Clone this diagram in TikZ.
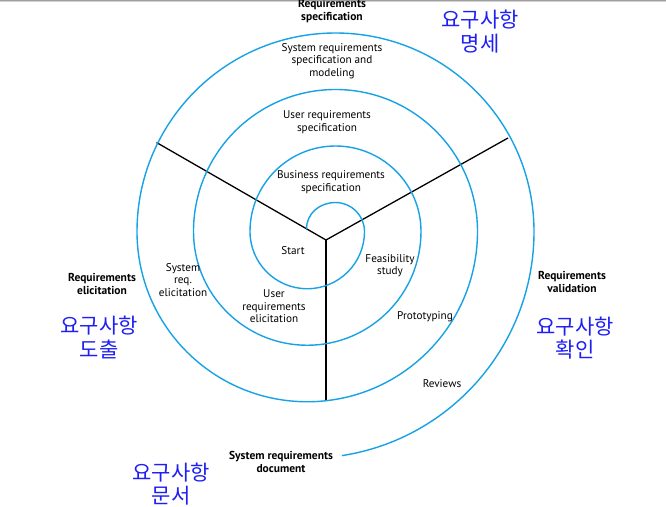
\documentclass[tikz,border=0pt]{standalone}
\usepackage{fontspec}
\setsansfont{PT Sans}
\newfontfamily\kofont{Noto Sans CJK KR}
\definecolor{spiralblue}{RGB}{24,162,230}
\definecolor{koblue}{RGB}{30,30,245}
\begin{document}
\begin{tikzpicture}[x=1pt,y=-1pt,
  spiral/.style={draw=spiralblue, line width=1.4pt},
  divider/.style={draw=black, line width=1.3pt},
  lbl/.style={font=\sffamily\fontsize{11.2}{12.5}\selectfont, align=center, inner sep=0pt},
  phase/.style={font=\sffamily\bfseries\fontsize{11.5}{13}\selectfont, align=center, inner sep=0pt},
  kor/.style={font=\kofont\fontsize{21}{23.5}\selectfont, text=koblue, align=center, inner sep=0pt}]
\useasboundingbox (0,0) rectangle (666,506);
\fill[white] (0,0) rectangle (666,506);
% thin grey rule along the top edge
\fill[gray!75] (0,0) rectangle (666,1.2);
\fill[gray!35] (0,1.2) rectangle (666,2.4);

% the three sector dividers
\coordinate (hub) at (326,240);
\coordinate (ul) at (156.5,142.5);
\coordinate (ur) at (508,138);
\coordinate (dn) at (326,401);
\draw[divider] (hub) -- (ul);
\draw[divider] (hub) -- (ur);
\draw[divider] (hub) -- (dn);

% the spiral: upper half-turns about (335.5,231.5), lower ones about (307.25,231.5)
\draw[spiral] (306.5,229) .. controls (306.5,213.5) and (319.5,202.5) .. (335.5,202.5)
  .. controls (351.5,202.5) and (364.5,215.5) .. (364.5,231.5)
  .. controls (364.5,263.1) and (338.9,288.75) .. (307.25,288.75)
  .. controls (275.6,288.75) and (250,263.1) .. (250,231.5)
  .. controls (250,184.3) and (288.3,146) .. (335.5,146)
  .. controls (382.7,146) and (421,184.3) .. (421,231.5)
  .. controls (421,294.3) and (370.1,345.25) .. (307.25,345.25)
  .. controls (244.4,345.25) and (193.5,294.3) .. (193.5,231.5)
  .. controls (193.5,153.1) and (257.1,89.5) .. (335.5,89.5)
  .. controls (413.9,89.5) and (477.5,153.1) .. (477.5,231.5)
  .. controls (477.5,325.5) and (401.3,401.75) .. (307.25,401.75)
  .. controls (213.2,401.75) and (137,325.5) .. (137,231.5)
  .. controls (137,121.9) and (225.9,33) .. (335.5,33)
  .. controls (445.1,33) and (534,121.9) .. (534,231.5)
  .. controls (534,343.3) and (452.5,438.5) .. (342,455.6);

% phase titles
\node[phase] (reqspec) at (332,11) {Requirements\\specification};
\node[phase] (reqelic) at (102,283.5) {Requirements\\elicitation};
\node[phase] (reqval) at (572,282) {Requirements\\validation};
\node[phase] (sysdoc) at (281,461.5) {System requirements\\document};

% activity labels
\node[lbl] (sysspec) at (332,61) {System requirements\\specification and\\modeling};
\node[lbl] (userspec) at (327,122) {User requirements\\specification};
\node[lbl] (busspec) at (331,182) {Business requirements\\specification};
\node[lbl] (start) at (293,251) {Start};
\node[lbl] (feas) at (390,265.5) {Feasibility\\study};
\node[lbl] (userelic) at (274,306.5) {User\\requirements\\elicitation};
\node[lbl] (sysreq) at (183,280) {System\\req.\\elicitation};
\node[lbl] (proto) at (425,317) {Prototyping};
\node[lbl] (reviews) at (442,384) {Reviews};

% Korean captions
\node[kor] (kspec) at (480,31.5) {요구사항\\명세};
\node[kor] (kelic) at (99,337.5) {요구사항\\도출};
\node[kor] (kval) at (575,338) {요구사항\\확인};
\node[kor] (kdoc) at (171,484) {요구사항\\문서};
\end{tikzpicture}
\end{document}
